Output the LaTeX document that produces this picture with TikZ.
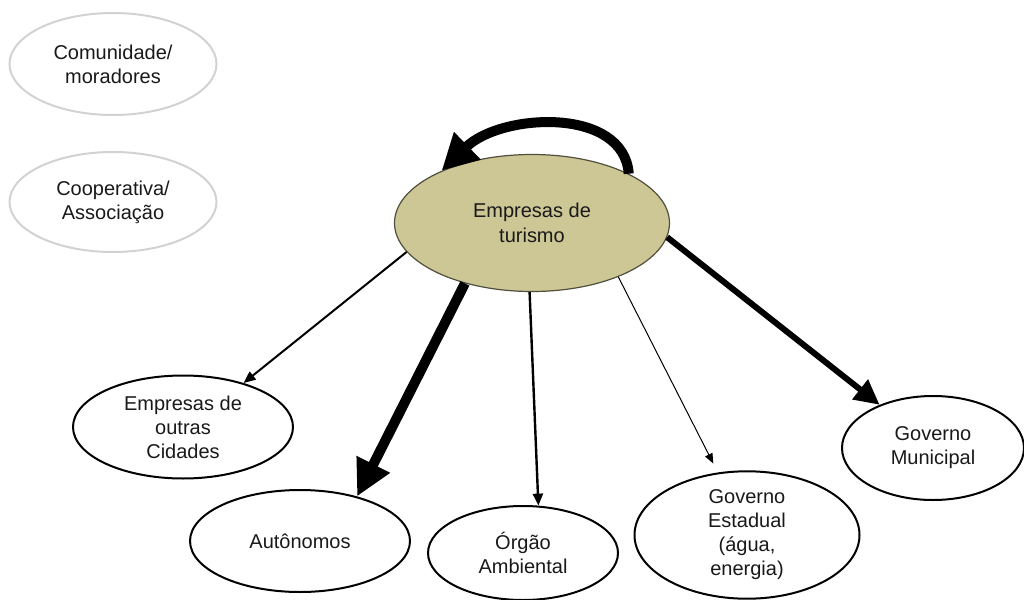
\documentclass[tikz,border=0pt]{standalone}
\usepackage{fontspec}
\setmainfont{Liberation Sans}
\usetikzlibrary{shapes.geometric,arrows.meta}
\definecolor{khaki}{RGB}{205,199,150}
\definecolor{khakiedge}{RGB}{80,78,60}
\definecolor{ghostgray}{RGB}{210,210,210}
\definecolor{txt}{RGB}{25,25,25}
\begin{document}
\begin{tikzpicture}[x=0.5pt,y=-0.5pt,
  ell/.style={ellipse, draw=black, line width=1pt, inner sep=0pt, align=center,
    font=\fontsize{10}{12}\selectfont, text=txt},
  ghost/.style={ell, draw=ghostgray, line width=1pt},
  conn/.style={draw=black}
  ]
\useasboundingbox (0,0) rectangle (1024,600);
\node[ghost, minimum width=103.5pt, minimum height=51pt] (com) at (113,64) {Comunidade/\\moradores};
\node[ghost, minimum width=103.5pt, minimum height=50pt] (coop) at (113,202) {Cooperativa/\\Associação};
\node[ell, fill=khaki, draw=khakiedge, line width=0.6pt, minimum width=137.5pt, minimum height=68.5pt,
  font=\fontsize{10}{12.5}\selectfont] (emp) at (532,223) {Empresas de\\turismo};
\node[ell, minimum width=110pt, minimum height=51.5pt] (out) at (183,427) {Empresas de\\outras\\Cidades};
\node[ell, minimum width=110pt, minimum height=51pt] (aut) at (300,541) {Autônomos};
\node[ell, minimum width=95pt, minimum height=47pt] (org) at (523,553) {Órgão\\Ambiental};
\node[ell, minimum width=112.5pt, minimum height=52.5pt] (est) at (747,535) {Governo\\Estadual\\(água,\\energia)};
\node[ell, minimum width=91pt, minimum height=52pt] (mun) at (933,448) {Governo\\Municipal};

\draw[conn, line width=1pt, -{Triangle[length=6pt,width=5pt]}] (emp.193.6) -- (out.36.7);
\draw[conn, line width=5pt, -{Triangle[length=18pt,width=17.5pt]}] (emp.222) -- (aut.38.8);
\draw[conn, line width=1.2pt, -{Triangle[length=6pt,width=5pt]}] (emp.268.3) -- (org.72);
\draw[conn, line width=0.5pt, -{Triangle[length=5pt,width=4pt]}, shorten >=5pt] (emp.328.6) -- (est.115);
\draw[conn, line width=3pt, -{Triangle[length=12.5pt,width=12pt]}] (emp.354.5) -- (mun.141);
\draw[conn, line width=5pt, -{Triangle[length=18pt,width=18pt]}] (emp.27.5) .. controls +(-5,-67) and +(60,-58) .. (emp.150.6);
\end{tikzpicture}
\end{document}
